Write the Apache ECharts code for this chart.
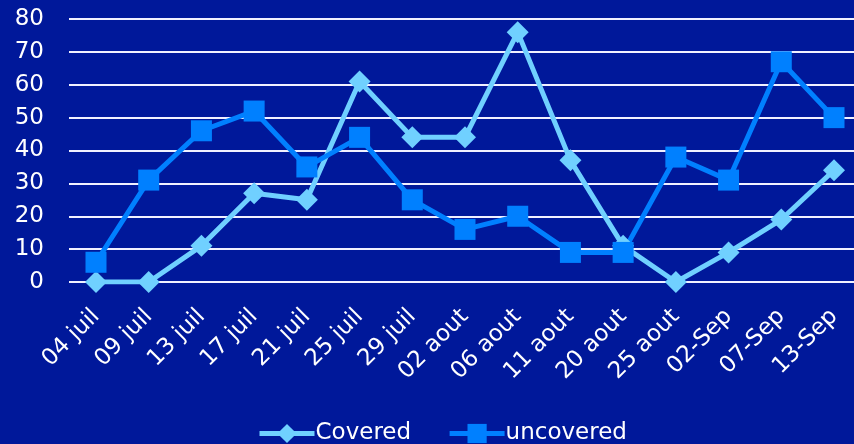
<!DOCTYPE html>
<html>
<head>
<meta charset="utf-8">
<script src="https://cdn.jsdelivr.net/npm/echarts@6/dist/echarts.min.js"></script>
<style>
html,body{margin:0;padding:0;background:#00189a;}
#chart{width:854px;height:444px;}
</style>
</head>
<body>
<div id="chart"></div>
<script>
var categories = ['04 juil','09 juil','13 juil','17 juil','21 juil','25 juil','29 juil','02 aout','06 aout','11 aout','20 aout','25 aout','02-Sep','07-Sep','13-Sep'];
var covered   = [0, 0, 11, 27, 25, 61, 44, 44, 76, 37, 11, 0, 9, 19, 34];
var uncovered = [6, 31, 46, 52, 35, 44, 25, 16, 20, 9, 9, 38, 31, 67, 50];
var yTicks = [0, 10, 20, 30, 40, 50, 60, 70, 80];

var FONT = '"DejaVu Sans", sans-serif';
var yMin = yTicks[0], yMax = yTicks[yTicks.length - 1];
var chart = echarts.init(document.getElementById('chart'), null, {renderer: 'canvas'});
chart.setOption({
  backgroundColor: '#00189a',
  animation: false,
  textStyle: {fontFamily: FONT},
  grid: [
    {left: 69, right: 0, top: 19, bottom: 162, containLabel: false},
    {left: 96, right: 20, top: 19, bottom: 162, containLabel: false}
  ],
  legend: {
    top: 417,
    left: 252,
    itemWidth: 55,
    itemHeight: 24,
    itemGap: 36,
    lineStyle: {width: 5},
    textStyle: {color: '#ffffff', fontSize: 23, fontFamily: FONT, padding: [0,0,0,-4]},
    data: ['Covered', 'uncovered']
  },
  xAxis: [
    {
      gridIndex: 0, type: 'category', data: categories, show: false
    },
    {
      gridIndex: 1,
      type: 'category',
      data: categories,
      boundaryGap: false,
      axisLine: {show: false},
      axisTick: {show: false},
      splitLine: {show: false},
      axisLabel: {color: '#ffffff', fontSize: 23, rotate: 45, margin: 31, interval: 0, fontFamily: FONT}
    }
  ],
  yAxis: [
    {
      gridIndex: 0,
      type: 'value',
      min: yMin, max: yMax, interval: 10,
      axisLine: {show: false},
      axisTick: {show: false},
      axisLabel: {color: '#ffffff', fontSize: 23, margin: 25, fontFamily: FONT},
      splitLine: {lineStyle: {color: '#f0f0ff', width: 2}}
    },
    {
      gridIndex: 1,
      type: 'value',
      min: yMin, max: yMax, interval: 10,
      show: false,
      splitLine: {show: false}
    }
  ],
  series: [
    {
      name: 'Covered',
      type: 'line',
      xAxisIndex: 1, yAxisIndex: 1,
      data: covered,
      symbol: 'diamond',
      symbolSize: 22,
      lineStyle: {color: '#70d0ff', width: 5},
      itemStyle: {color: '#70d0ff'}
    },
    {
      name: 'uncovered',
      type: 'line',
      xAxisIndex: 1, yAxisIndex: 1,
      data: uncovered,
      symbol: 'rect',
      symbolSize: 21,
      lineStyle: {color: '#0080ff', width: 5},
      itemStyle: {color: '#0080ff'}
    }
  ]
});
</script>
</body>
</html>
